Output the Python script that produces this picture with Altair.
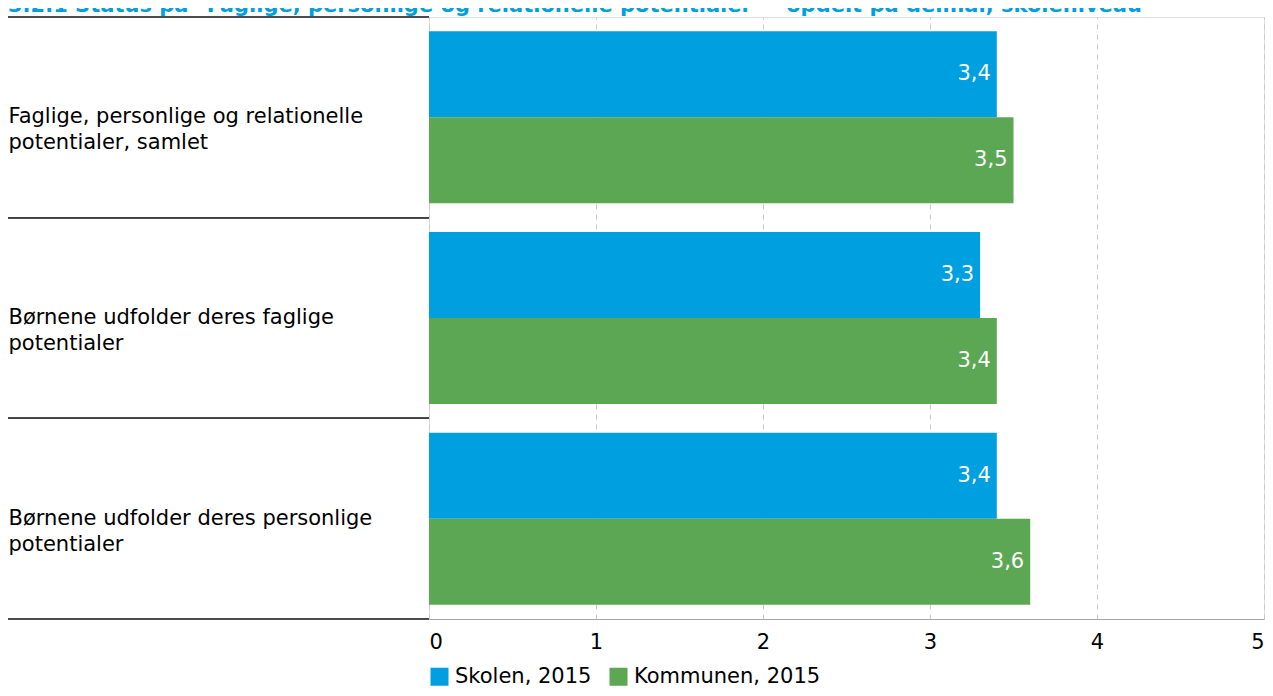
import altair as alt
import pandas as pd

title_text = "3.2.1 Status på \"Faglige, personlige og relationelle potentialer\" - opdelt på delmål, skoleniveau"
categories = [
    "Faglige, personlige og relationelle|potentialer, samlet",
    "Børnene udfolder deres faglige|potentialer",
    "Børnene udfolder deres personlige|potentialer",
]
series = ["Skolen, 2015", "Kommunen, 2015"]
skolen = [3.4, 3.3, 3.4]
kommunen = [3.5, 3.4, 3.6]
colors = ["#009FE0", "#5BA753"]
x_ticks = [0, 1, 2, 3, 4, 5]

rows = []
for c, s, k in zip(categories, skolen, kommunen):
    rows.append({"cat": c, "series": series[0], "value": s})
    rows.append({"cat": c, "series": series[1], "value": k})
df = pd.DataFrame(rows)

FONT = "DejaVu Sans"
FS = 21

y_enc = alt.Y("cat:N", sort=categories, scale=alt.Scale(paddingInner=0, paddingOuter=0),
              axis=alt.Axis(title=None, labelExpr="split(datum.label, '|')", labelAlign="left",
                            labelPadding=421, ticks=False, tickSize=0, domain=False, grid=False,
                            labelFontSize=FS, labelColor="#000000", labelLineHeight=26,
                            labelFont=FONT, labelLimit=0))
yoff = alt.YOffset("series:N", sort=series, scale=alt.Scale(paddingOuter=0.167, paddingInner=0))
x_enc = alt.X("value:Q", scale=alt.Scale(domain=[0, 5], nice=False),
              axis=alt.Axis(title=None, values=x_ticks, format="d", labelFlush=True, grid=True,
                            gridDash=[5, 5], gridColor="#c8c8c8", ticks=False,
                            domainColor="#a6a6a6", labelFontSize=FS, labelColor="#000000",
                            labelPadding=12, labelFont=FONT))

base = alt.Chart(df)

bars = base.mark_bar().encode(
    x=x_enc,
    y=y_enc,
    yOffset=yoff,
    color=alt.Color("series:N", sort=series,
                    scale=alt.Scale(domain=series, range=colors),
                    legend=alt.Legend(title=None, orient="none", legendX=0, legendY=649,
                                      direction="horizontal", symbolType="square",
                                      symbolSize=324, symbolStrokeWidth=0, labelFontSize=FS,
                                      labelFont=FONT, labelColor="#000000", columnPadding=16,
                                      labelOffset=5, labelLimit=0)),
)

labels = base.transform_calculate(
    lbl="replace(format(datum.value, '.1f'), '.', ',')"
).mark_text(align="right", baseline="middle", dx=-6, color="white", fontSize=FS, font=FONT).encode(
    x="value:Q",
    y=alt.Y("cat:N", sort=categories),
    yOffset=alt.YOffset("series:N", sort=series),
    text="lbl:N",
)

rule_top = base.mark_rule(color="#404040", strokeWidth=1.5).encode(
    y=alt.Y("cat:N", sort=categories, bandPosition=0),
    x=alt.value(-421), x2=alt.value(0),
)
rule_bot = base.mark_rule(color="#404040", strokeWidth=1.5).encode(
    y=alt.Y("cat:N", sort=categories, bandPosition=1),
    x=alt.value(-421), x2=alt.value(0),
)

title = alt.Chart(pd.DataFrame({"t": [title_text]})).mark_text(
    align="left", baseline="alphabetic", fontSize=FS, fontWeight="bold", color="#009FE0", font=FONT
).encode(x=alt.value(-421), y=alt.value(-5), text="t:N")

chart = alt.layer(rule_top, rule_bot, bars, labels, title).properties(
    width=835, height=602,
    autosize=alt.AutoSizeParams(type="none"),
    padding={"left": 421, "top": 9, "right": 1, "bottom": 69},
).configure_view(stroke="#a6a6a6", strokeWidth=1).configure(font=FONT)

chart.save("out.html", embed_options={"renderer": "svg", "actions": False})
